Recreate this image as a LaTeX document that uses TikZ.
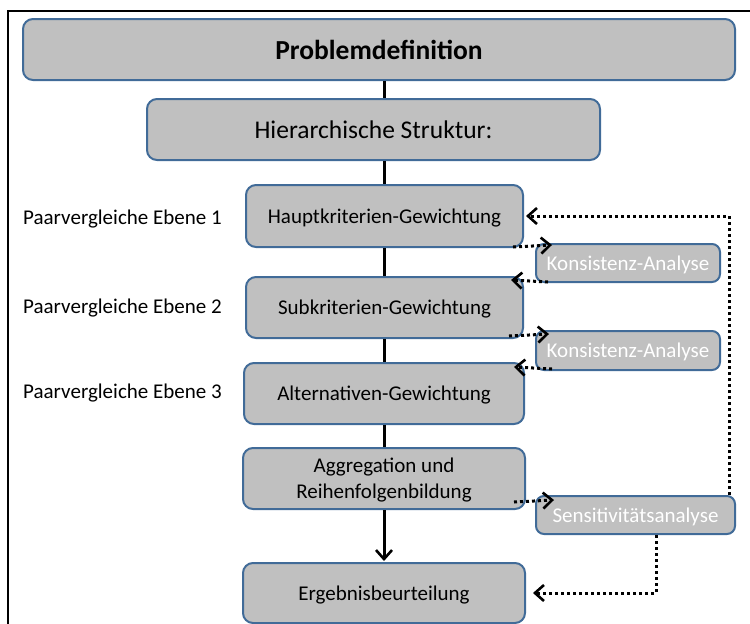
\documentclass[tikz,border=0pt]{standalone}
\usepackage{fontspec}
\setmainfont{Carlito}
\usetikzlibrary{calc,arrows.meta}
\definecolor{boxfill}{RGB}{192,192,192}
\definecolor{boxline}{RGB}{65,107,152}
\tikzset{
  box/.style={draw=boxline, line width=2pt, fill=boxfill, rounded corners=10pt,
    inner sep=0pt, align=center, font=\fontsize{21}{26}\selectfont},
  oneline/.style={text height=19.5pt, text depth=5pt},
  smallbox/.style={box, oneline, rounded corners=8pt, text=white, font=\fontsize{21}{24}\selectfont},
  sidelabel/.style={anchor=west, inner sep=0pt, font=\fontsize{21}{24}\selectfont},
  flow/.style={line width=3pt},
  flowarrow/.style={flow, -{Straight Barb[length=9pt,width=16pt,line width=2.6pt]}},
  dotarrow/.style={line width=3pt, dash pattern=on 3pt off 3pt,
    -{Straight Barb[length=9pt,width=16pt,line width=2.6pt]}}
}
\begin{document}
\begin{tikzpicture}[x=1pt,y=-1pt]
\useasboundingbox (0,0) rectangle (750,624);
% frame
\draw[line width=2.5pt] (8,624) -- (8,11) -- (750,11);

% main column
\node[box, minimum width=712pt, minimum height=61pt, font=\fontsize{27.5}{30}\selectfont\bfseries]
  (prob) at (379,49.5) {Problemdefinition};
\node[box, minimum width=453pt, minimum height=61pt, font=\fontsize{25.5}{29}\selectfont]
  (hier) at (373.5,129.5) {Hierarchische Struktur:};
\node[box, oneline, minimum width=277pt, minimum height=62pt] (haupt) at (384.5,216) {Hauptkriterien-Gewichtung};
\node[box, oneline, minimum width=277pt, minimum height=61pt] (sub) at (384.5,307.5) {Subkriterien-Gewichtung};
\node[box, oneline, minimum width=280pt, minimum height=61pt] (alt) at (384,393.5) {Alternativen-Gewichtung};
\node[box, minimum width=282pt, minimum height=61pt] (agg) at (384,478.5) {\rule{0pt}{17pt}Aggregation und\\Reihenfolgenbildung};
\node[box, oneline, minimum width=282pt, minimum height=60pt] (erg) at (384,593) {Ergebnisbeurteilung};

% side checks
\node[smallbox, minimum width=184pt, minimum height=38pt] (kons1) at (628,263) {Konsistenz-Analyse};
\node[smallbox, minimum width=184pt, minimum height=39pt] (kons2) at (628,350.5) {Konsistenz-Analyse};
\node[smallbox, minimum width=199pt, minimum height=38pt] (sens) at (635.5,515) {Sensitivitätsanalyse};

% level labels
\node[sidelabel] (lab1) at (23,219) {Paarvergleiche Ebene 1};
\node[sidelabel] (lab2) at (23,308) {Paarvergleiche Ebene 2};
\node[sidelabel] (lab3) at (23,393) {Paarvergleiche Ebene 3};

% solid flow
\draw[flow] (prob.south -| haupt.north) -- (hier.north -| haupt.north);
\draw[flow] (hier.south -| haupt.north) -- (haupt.north);
\draw[flow] (haupt.south) -- (sub.north);
\draw[flow] ($(sub.south)+(-0.5,0)$) -- (alt.north);
\draw[flow] (alt.south) -- (agg.north);
\draw[flowarrow] (agg.south) -- ($(erg.north)+(0,-1)$);

% dotted checks
\draw[dotarrow] ($(haupt.south east)+(-11,-1)$) -- ($(kons1.north west)+(17,2)$);
\draw[dotarrow] ($(kons1.south west)+(13,-1)$) -- ($(sub.north east)+(-13,4)$);
\draw[dotarrow] ($(sub.south east)+(-15,-3)$) -- ($(kons2.north west)+(14,4)$);
\draw[dotarrow] ($(kons2.south west)+(17,-2)$) -- ($(alt.north east)+(-11,5)$);
\draw[dotarrow] ($(agg.south east)+(-12,-8)$) -- ($(sens.north west)+(19,5)$);
\draw[dotarrow] ($(sens.north east)+(-7,0)$) |- ($(haupt.east)+(2,0)$);
\draw[dotarrow] ($(sens.south)+(20.5,0)$) |- ($(erg.east)+(7,0)$);
\end{tikzpicture}
\end{document}
